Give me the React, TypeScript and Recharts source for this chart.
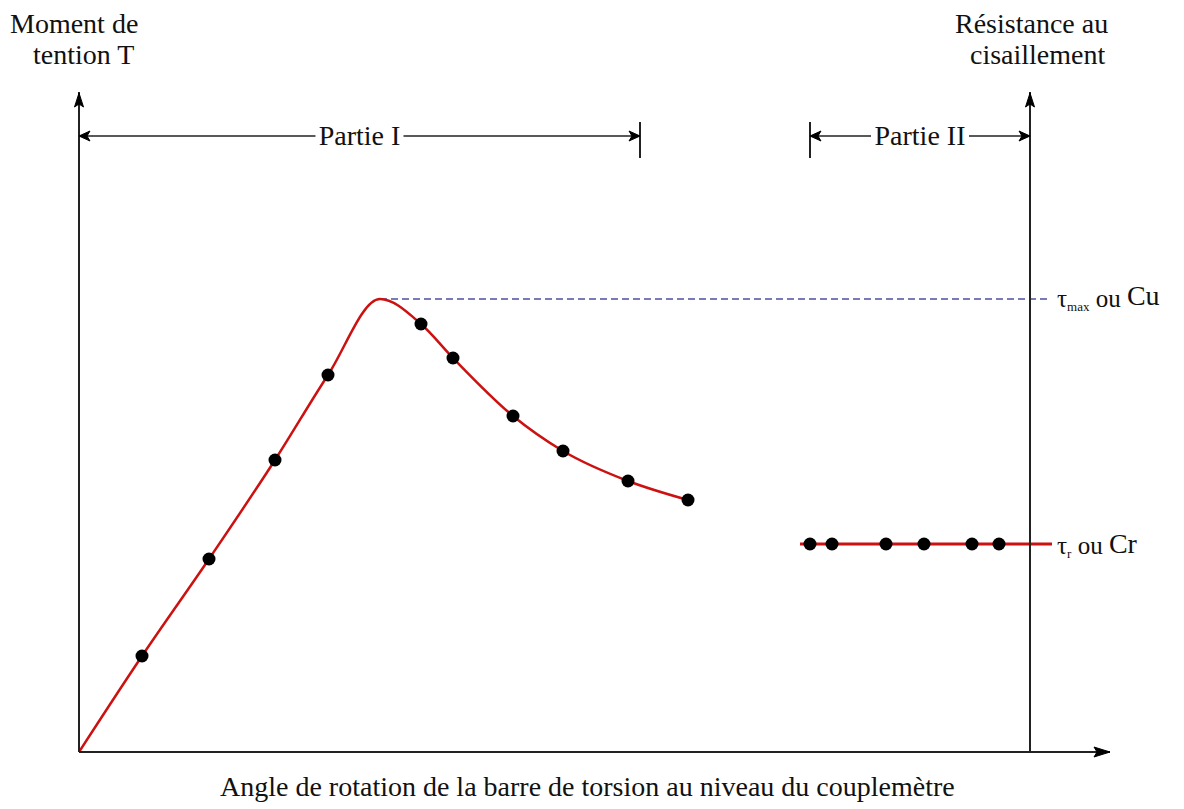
import React from 'react';
import {
  ComposedChart,
  Line,
  Scatter,
  XAxis,
  YAxis,
  ReferenceLine,
  ReferenceDot,
} from 'recharts';

// Partie I curve (arbitrary units: angle vs moment)
const curveX = [0, 63, 130, 196, 249, 301, 342, 374, 434, 484, 549, 609];
const curveY = [0, 96, 193, 292, 377, 453, 428, 394, 336, 301, 271, 252];
// measured points on Partie I
const markerX1 = [63, 130, 196, 249, 342, 374, 434, 484, 549, 609];
const markerY1 = [96, 193, 292, 377, 428, 394, 336, 301, 271, 252];
// Partie II residual plateau
const plateauX = [721, 973];
const residualLevel = 208;
const markerX2 = [731, 753, 807, 845, 893, 920];
// peak level
const peakLevel = 453;
const peakStartX = 301;
const peakEndX = 968;
// axes / annotation positions
const xMax = 1031;
const yMax = 660;
const rightAxisX = 951;
const partieY = 616;
const partie1 = [0, 561];
const partie2 = [731, 951];
const tickSpan = [594, 630];

const curveData = curveX.map((x, i) => ({ x, y: curveY[i] }));
const marker1Data = markerX1.map((x, i) => ({ x, y: markerY1[i] }));
const plateauData = plateauX.map((x) => ({ x, y: residualLevel }));
const marker2Data = markerX2.map((x) => ({ x, y: residualLevel }));

const FONT = '"Liberation Serif", "Times New Roman", serif';
const RED = '#cc1111';
const AX = '#222';

const arrowShape = (dir: 'up' | 'left' | 'right', len = 13, half = 5) => (p: any) => {
  const { cx, cy } = p;
  const a = dir === 'up' ? 0 : dir === 'right' ? 90 : -90;
  return (
    <polygon
      transform={`translate(${cx},${cy}) rotate(${a})`}
      points={`0,0 ${-half},${len} 0,${len - 3} ${half},${len}`}
      fill="#000"
      stroke="#000"
      strokeWidth={1}
      strokeLinejoin="round"
    />
  );
};

const dotShape = (p: any) => <circle cx={p.cx} cy={p.cy} r={6.5} fill="#000" />;

const partieLabel = (text: string, w: number) => (p: any) => (
  <g>
    <rect x={p.cx - w / 2} y={p.cy - 14} width={w} height={28} fill="#fff" />
    <text x={p.cx} y={p.cy + 9} textAnchor="middle" fontFamily={FONT} fontSize={28} fill="#111">
      {text}
    </text>
  </g>
);

const tauMaxLabel = (p: any) => (
  <text x={p.cx} y={p.cy + 8} fontFamily={FONT} fill="#111">
    <tspan fontSize={25}>τ</tspan>
    <tspan fontSize={13} dy={4}>max</tspan>
    <tspan fontSize={25} dy={-4}> ou </tspan>
    <tspan fontSize={28} dy={-2}>Cu</tspan>
  </text>
);

const tauRLabel = (p: any) => (
  <text x={p.cx} y={p.cy + 10} fontFamily={FONT} fill="#111">
    <tspan fontSize={25}>τ</tspan>
    <tspan fontSize={13} dy={4}>r</tspan>
    <tspan fontSize={25} dy={-4}> ou </tspan>
    <tspan fontSize={28} dy={-1}>Cr</tspan>
  </text>
);

const textStyle: React.CSSProperties = {
  position: 'absolute',
  fontFamily: FONT,
  fontSize: 28,
  lineHeight: '31px',
  whiteSpace: 'nowrap',
  color: '#111',
};

export default function App() {
  return (
    <div style={{ position: 'absolute', left: 0, top: 0, width: 1184, height: 809, background: '#fff' }}>
      <ComposedChart
        width={1184}
        height={809}
        margin={{ top: 92, right: 74, bottom: 57, left: 79 }}
      >
        <XAxis type="number" dataKey="x" domain={[0, xMax]} allowDataOverflow hide />
        <YAxis type="number" dataKey="y" domain={[0, yMax]} allowDataOverflow hide />
        <ReferenceLine
          segment={[{ x: peakStartX, y: peakLevel }, { x: peakEndX, y: peakLevel }]}
          stroke="#7a7ab8"
          strokeWidth={2}
          strokeDasharray="7 4"
        />
        {/* Partie I dimension line */}
        <ReferenceLine
          segment={[{ x: partie1[0], y: partieY }, { x: partie1[1], y: partieY }]}
          stroke={AX}
          strokeWidth={1.5}
        />
        <ReferenceLine
          segment={[{ x: partie1[1], y: tickSpan[0] }, { x: partie1[1], y: tickSpan[1] }]}
          stroke={AX}
          strokeWidth={2}
        />
        {/* Partie II dimension line */}
        <ReferenceLine
          segment={[{ x: partie2[0], y: partieY }, { x: partie2[1], y: partieY }]}
          stroke={AX}
          strokeWidth={1.5}
        />
        <ReferenceLine
          segment={[{ x: partie2[0], y: tickSpan[0] }, { x: partie2[0], y: tickSpan[1] }]}
          stroke={AX}
          strokeWidth={2}
        />
        <Line
          data={curveData}
          dataKey="y"
          type="monotone"
          stroke={RED}
          strokeWidth={2.5}
          dot={false}
          activeDot={false}
          isAnimationActive={false}
        />
        <Line
          data={plateauData}
          dataKey="y"
          type="linear"
          stroke={RED}
          strokeWidth={3}
          dot={false}
          activeDot={false}
          isAnimationActive={false}
        />
        {/* axes */}
        <ReferenceLine y={0} stroke={AX} strokeWidth={2} ifOverflow="visible" />
        <ReferenceLine x={0} stroke={AX} strokeWidth={2} ifOverflow="visible" />
        <ReferenceLine x={rightAxisX} stroke={AX} strokeWidth={2} />
        <Scatter data={marker1Data} dataKey="y" shape={dotShape} isAnimationActive={false} />
        <Scatter data={marker2Data} dataKey="y" shape={dotShape} isAnimationActive={false} />
        {/* arrowheads */}
        <ReferenceDot x={0} y={659} shape={arrowShape('up', 14, 4.5)} ifOverflow="visible" />
        <ReferenceDot x={rightAxisX} y={659} shape={arrowShape('up', 14, 4.5)} ifOverflow="visible" />
        <ReferenceDot x={xMax} y={0} shape={arrowShape('right', 16, 5)} ifOverflow="visible" />
        <ReferenceDot x={partie1[0]} y={partieY} shape={arrowShape('left', 11, 5)} ifOverflow="visible" />
        <ReferenceDot x={partie1[1]} y={partieY} shape={arrowShape('right', 11, 5)} />
        <ReferenceDot x={partie2[0]} y={partieY} shape={arrowShape('left', 11, 5)} />
        <ReferenceDot x={partie2[1]} y={partieY} shape={arrowShape('right', 11, 5)} />
        {/* labels */}
        <ReferenceDot x={(partie1[0] + 561) / 2} y={partieY} shape={partieLabel('Partie I', 88)} />
        <ReferenceDot x={(partie2[0] + partie2[1]) / 2} y={partieY} shape={partieLabel('Partie II', 98)} />
        <ReferenceDot x={978} y={peakLevel} shape={tauMaxLabel} />
        <ReferenceDot x={978} y={residualLevel} shape={tauRLabel} />
      </ComposedChart>
      <div style={{ ...textStyle, left: 10, top: 8 }}>Moment de</div>
      <div style={{ ...textStyle, left: 33, top: 39 }}>tention T</div>
      <div style={{ ...textStyle, left: 955, top: 8 }}>Résistance au</div>
      <div style={{ ...textStyle, left: 970, top: 39 }}>cisaillement</div>
      <div style={{ ...textStyle, left: 220, top: 771 }}>
        Angle de rotation de la barre de torsion au niveau du couplemètre
      </div>
    </div>
  );
}
